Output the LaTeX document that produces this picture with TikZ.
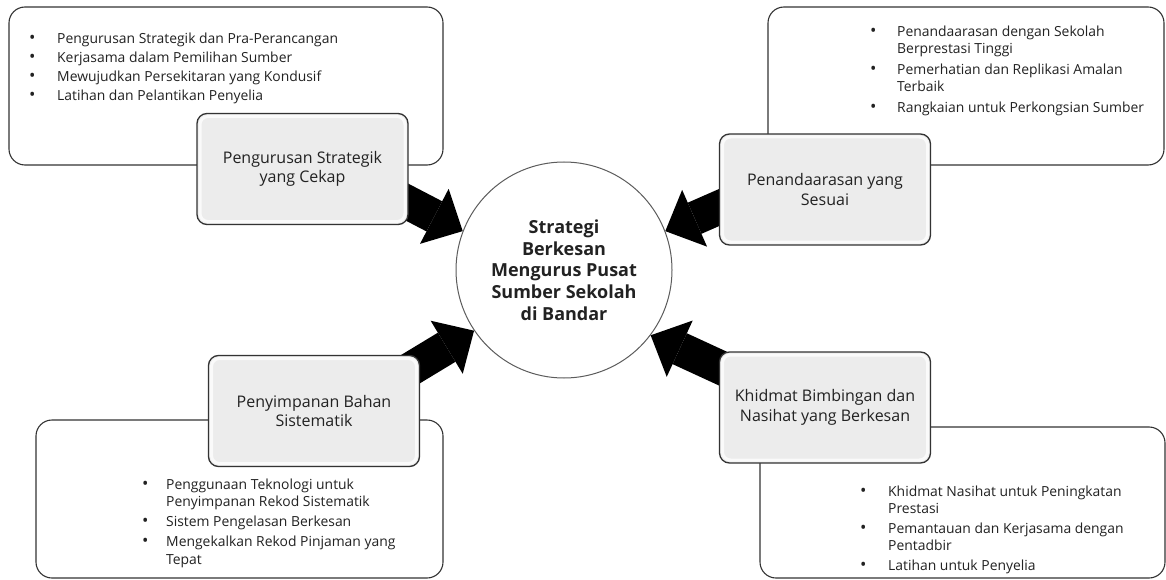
\documentclass[tikz,border=0pt]{standalone}
\usepackage{fontspec}
\setmainfont{Open Sans}
\usetikzlibrary{arrows.meta,calc}
\pgfdeclarelayer{bg}
\pgfdeclarelayer{mid}
\pgfsetlayers{bg,mid,main}
\definecolor{edge}{HTML}{333333}
\definecolor{boxfill}{HTML}{ECECEC}
\definecolor{ink}{HTML}{222222}
\newcommand\blt{{\fontsize{17}{17}\selectfont\textbullet}}
\begin{document}
\begin{tikzpicture}[x=1pt,y=-1pt,
  bigbox/.style={draw=edge, line width=1.1pt, rounded corners=16pt, fill=white, inner sep=0pt},
  smallbox/.style={draw=edge, line width=1.3pt, rounded corners=10pt, fill=boxfill,
    align=center, font=\fontsize{16}{19.5}\selectfont, text=ink, inner sep=0pt,
    minimum width=211pt, minimum height=111pt,
    path picture={\draw[white, opacity=0.75, line width=3pt, rounded corners=8pt]
      ($(path picture bounding box.south west)+(3pt,3pt)$) rectangle
      ($(path picture bounding box.north east)-(3pt,3pt)$);}},
  listtext/.style={anchor=north west, inner sep=0pt, text=ink},
  hub/.style={circle, draw=edge!80, line width=1pt, fill=white, minimum size=216pt,
    inner sep=0pt, align=center, text=ink, font=\fontsize{18}{21.7}\selectfont\bfseries},
  bigarrow/.style={line width=34pt, black, -{Triangle[length=32pt,width=62pt,line width=0pt]}}
]
\useasboundingbox (0,0) rectangle (1166,580);

\begin{pgfonlayer}{bg}
\node[bigbox, minimum width=434pt, minimum height=158pt] (tlbox) at (226,86) {};
\node[bigbox, minimum width=396pt, minimum height=158pt] (trbox) at (966,86) {};
\node[bigbox, minimum width=407pt, minimum height=158pt] (blbox) at (239.5,499) {};
\node[bigbox, minimum width=405pt, minimum height=151pt] (brbox) at (962.5,502.5) {};

\node[listtext, font=\fontsize{13.9}{19}\selectfont] (tllist) at (29,29.6) {%
\begin{tabular}{@{}p{28pt}@{}l@{}}
\blt & Pengurusan Strategik dan Pra-Perancangan\\
\blt & Kerjasama dalam Pemilihan Sumber\\
\blt & Mewujudkan Persekitaran yang Kondusif\\
\blt & Latihan dan Pelantikan Penyelia
\end{tabular}};

\node[listtext, font=\fontsize{13.9}{17}\selectfont] (trlist) at (870,24.6) {%
\begin{tabular}{@{}p{27pt}@{}l@{}}
\blt & Penandaarasan dengan Sekolah\\
 & Berprestasi Tinggi\\[4pt]
\blt & Pemerhatian dan Replikasi Amalan\\
 & Terbaik\\[4pt]
\blt & Rangkaian untuk Perkongsian Sumber
\end{tabular}};

\node[listtext, font=\fontsize{13.9}{17.5}\selectfont] (bllist) at (142,476.6) {%
\begin{tabular}{@{}p{24pt}@{}l@{}}
\blt & Penggunaan Teknologi untuk\\
 & Penyimpanan Rekod Sistematik\\[2.5pt]
\blt & Sistem Pengelasan Berkesan\\[2.5pt]
\blt & Mengekalkan Rekod Pinjaman yang\\
 & Tepat
\end{tabular}};

\node[listtext, font=\fontsize{13.9}{17}\selectfont] (brlist) at (860,484.6) {%
\begin{tabular}{@{}p{28pt}@{}l@{}}
\blt & Khidmat Nasihat untuk Peningkatan\\
 & Prestasi\\[3pt]
\blt & Pemantauan dan Kerjasama dengan\\
 & Pentadbir\\[3pt]
\blt & Latihan untuk Penyelia
\end{tabular}};

\node[hub] (circ) at (564,270) {Strategi\\Berkesan\\Mengurus Pusat\\Sumber Sekolah\\di Bandar};
\end{pgfonlayer}

\node[smallbox] (tl) at (302.5,169) {Pengurusan Strategik\\yang Cekap};
\node[smallbox] (tr) at (825,189.5) {Penandaarasan yang\\Sesuai};
\node[smallbox] (bl) at (314,411) {Penyimpanan Bahan\\Sistematik};
\node[smallbox] (br) at (825,407.5) {Khidmat Bimbingan dan\\Nasihat yang Berkesan};

\coordinate (tlT) at (328,161);
\coordinate (trT) at (800,172);
\coordinate (blT) at (343,410);
\coordinate (brT) at (791,400);

\begin{pgfonlayer}{mid}
\draw[bigarrow] (tlT) -- (circ.159);
\draw[bigarrow] (trT) -- (circ.21);
\draw[bigarrow] (blT) -- (circ.214);
\draw[bigarrow] (brT) -- (circ.-37);
\end{pgfonlayer}
\end{tikzpicture}
\end{document}
